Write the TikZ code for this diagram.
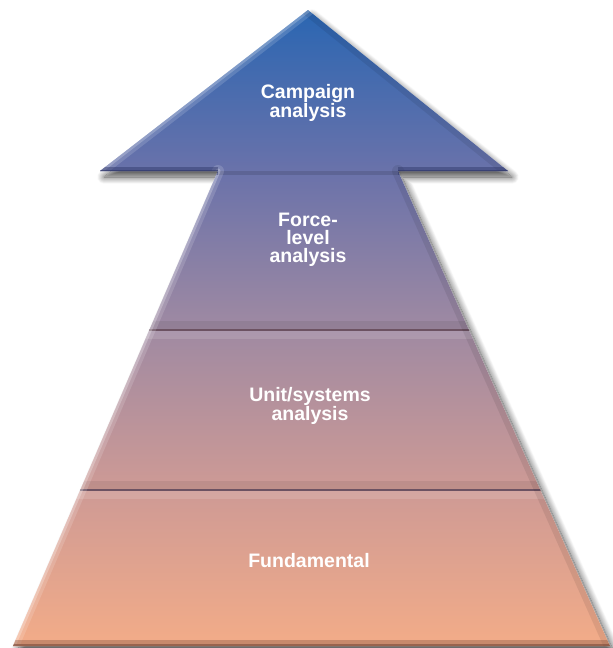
\documentclass[tikz,border=0pt]{standalone}
\usepackage{fontspec}
\setmainfont{Liberation Sans}
\usetikzlibrary{shadows.blur}

\definecolor{tipblue}{HTML}{2A66B2}
\definecolor{headlow}{HTML}{6A72AA}
\definecolor{lavender}{HTML}{A08AA2}
\definecolor{rose}{HTML}{CE9A95}
\definecolor{peach}{HTML}{F3AC88}
\definecolor{divider}{HTML}{6C5262}
\definecolor{baseedge}{HTML}{7A4A3A}
\definecolor{underside}{HTML}{2C3466}

% vertical colour run of the whole pyramid, bottom (25bp) to top (75bp)
\pgfdeclareverticalshading{pyramidfill}{100bp}{%
  color(0bp)=(peach); color(25bp)=(peach);
  color(37.3bp)=(rose); color(49.8bp)=(lavender);
  color(62.3bp)=(headlow); color(75bp)=(tipblue); color(100bp)=(tipblue)}

\tikzset{
  label/.style={text=white, align=center, inner sep=0pt,
    font=\fontsize{19.5}{17.8}\selectfont\bfseries},
  edgelight/.style={white, line cap=round},
  edgedark/.style={black, line cap=round},
}

\begin{document}
\begin{tikzpicture}[x=1pt, y=-1pt]
  \useasboundingbox (0,0) rectangle (613,648);

  % outline: arrow head on top of a trapezoid
  \def\outline{(308,10) -- (508,171) -- (398,171) -- (610,646) -- (13,646)
               -- (218,171) -- (100,171) -- cycle}

  % soft drop shadow
  \path[fill=white, blur shadow={shadow xshift=4pt, shadow yshift=-6pt,
        shadow blur radius=7pt, shadow blur steps=14, shadow opacity=70}]
        \outline;

  % main body
  \path[shading=pyramidfill] \outline;

  \begin{scope}
    \clip \outline;
    % bands around the two dividers
    \fill[black, opacity=0.07] (0,321) rectangle (613,330);
    \fill[white, opacity=0.12] (0,330) rectangle (613,339);
    \fill[black, opacity=0.07] (0,481) rectangle (613,490);
    \fill[white, opacity=0.12] (0,490) rectangle (613,499);
    \draw[divider, line width=1.4pt] (0,330) -- (613,330);
    \draw[divider, line width=1.4pt] (0,490) -- (613,490);

    % shade where the shaft meets the arrow head
    \fill[black, opacity=0.12] (0,171) rectangle (613,175);

    % bevelled rims
    \draw[edgelight, opacity=0.15, line width=12pt] (100,171) -- (308,10);
    \draw[edgelight, opacity=0.22, line width=5pt] (100,171) -- (308,10);
    \draw[edgelight, opacity=0.15, line width=12pt] (13,646) -- (218,171);
    \draw[edgelight, opacity=0.25, line width=5pt] (13,646) -- (218,171);
    \draw[edgedark, opacity=0.08, line width=12pt] (308,10) -- (508,171);
    \draw[edgedark, opacity=0.08, line width=12pt] (398,171) -- (610,646);
    \draw[baseedge, opacity=0.35, line width=12pt] (13,646) -- (610,646);
    \draw[baseedge, opacity=0.6, line width=5pt] (13,646) -- (610,646);
    \draw[underside, opacity=0.45, line width=8pt] (100,171) -- (218,171);
    \draw[underside, opacity=0.45, line width=8pt] (398,171) -- (508,171);
    \draw[underside, opacity=0.6, line width=3pt] (100,171) -- (218,171);
    \draw[underside, opacity=0.6, line width=3pt] (398,171) -- (508,171);
  \end{scope}

  % level names
  \node[label] (campaign) at (308,103) {Campaign\\analysis};
  \node[label] (force) at (308,240) {Force-\\level\\analysis};
  \node[label] (unit) at (310,406) {Unit/systems\\analysis};
  \node[label] (fundamental) at (309,561) {Fundamental};
\end{tikzpicture}
\end{document}
